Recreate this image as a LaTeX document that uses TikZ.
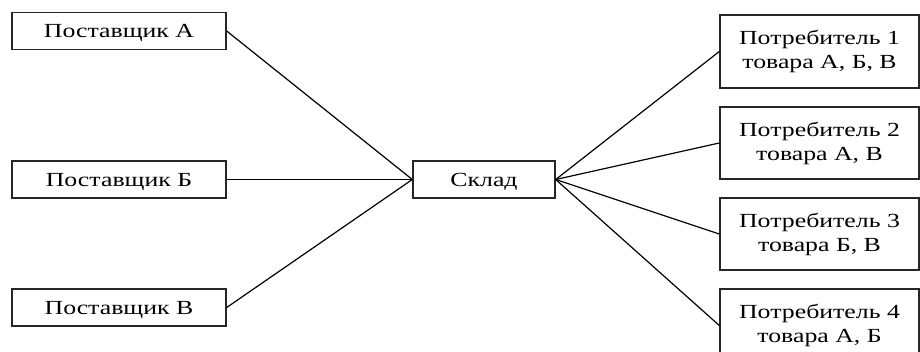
\documentclass[tikz,border=0pt]{standalone}
\usepackage{fontspec}
\setmainfont{Liberation Serif}[FakeStretch=1.29]
\begin{document}
\begin{tikzpicture}[x=1pt,y=-1pt,
	box/.style={draw=black!85, line width=1.4pt, inner sep=0pt, align=center,
		font=\fontsize{20}{24}\selectfont},
	onerow/.style={box, text depth=0pt, minimum height=37},
	link/.style={line width=1.2pt}]
		\useasboundingbox (0,0) rectangle (920,352);
		\node[onerow, minimum width=214] (supA) at (119,31) {Поставщик А};
		\node[onerow, minimum width=214] (supB) at (119,179.5) {Поставщик Б};
		\node[onerow, minimum width=214] (supV) at (119,307.5) {Поставщик В};
		\node[onerow, minimum width=142] (sklad) at (484,179.5) {Склад};
		\node[box, minimum width=199, minimum height=73] (cons1) at (819.5,51.5) {Потребитель 1\\товара А, Б, В};
		\node[box, minimum width=199, minimum height=72] (cons2) at (819.5,143) {Потребитель 2\\товара А, В};
		\node[box, minimum width=199, minimum height=72] (cons3) at (819.5,234) {Потребитель 3\\товара Б, В};
		\node[box, minimum width=199, minimum height=73] (cons4) at (819.5,325.5) {Потребитель 4\\товара А, Б};
		
		\draw[link] (supA.east) -- (sklad.west);
		\draw[link] (supB.east) -- (sklad.west);
		\draw[link] (supV.east) -- (sklad.west);
		\foreach \i in {1,...,4}
			\draw[link] (sklad.east) -- (cons\i.west);
		\end{tikzpicture}
\end{document}
